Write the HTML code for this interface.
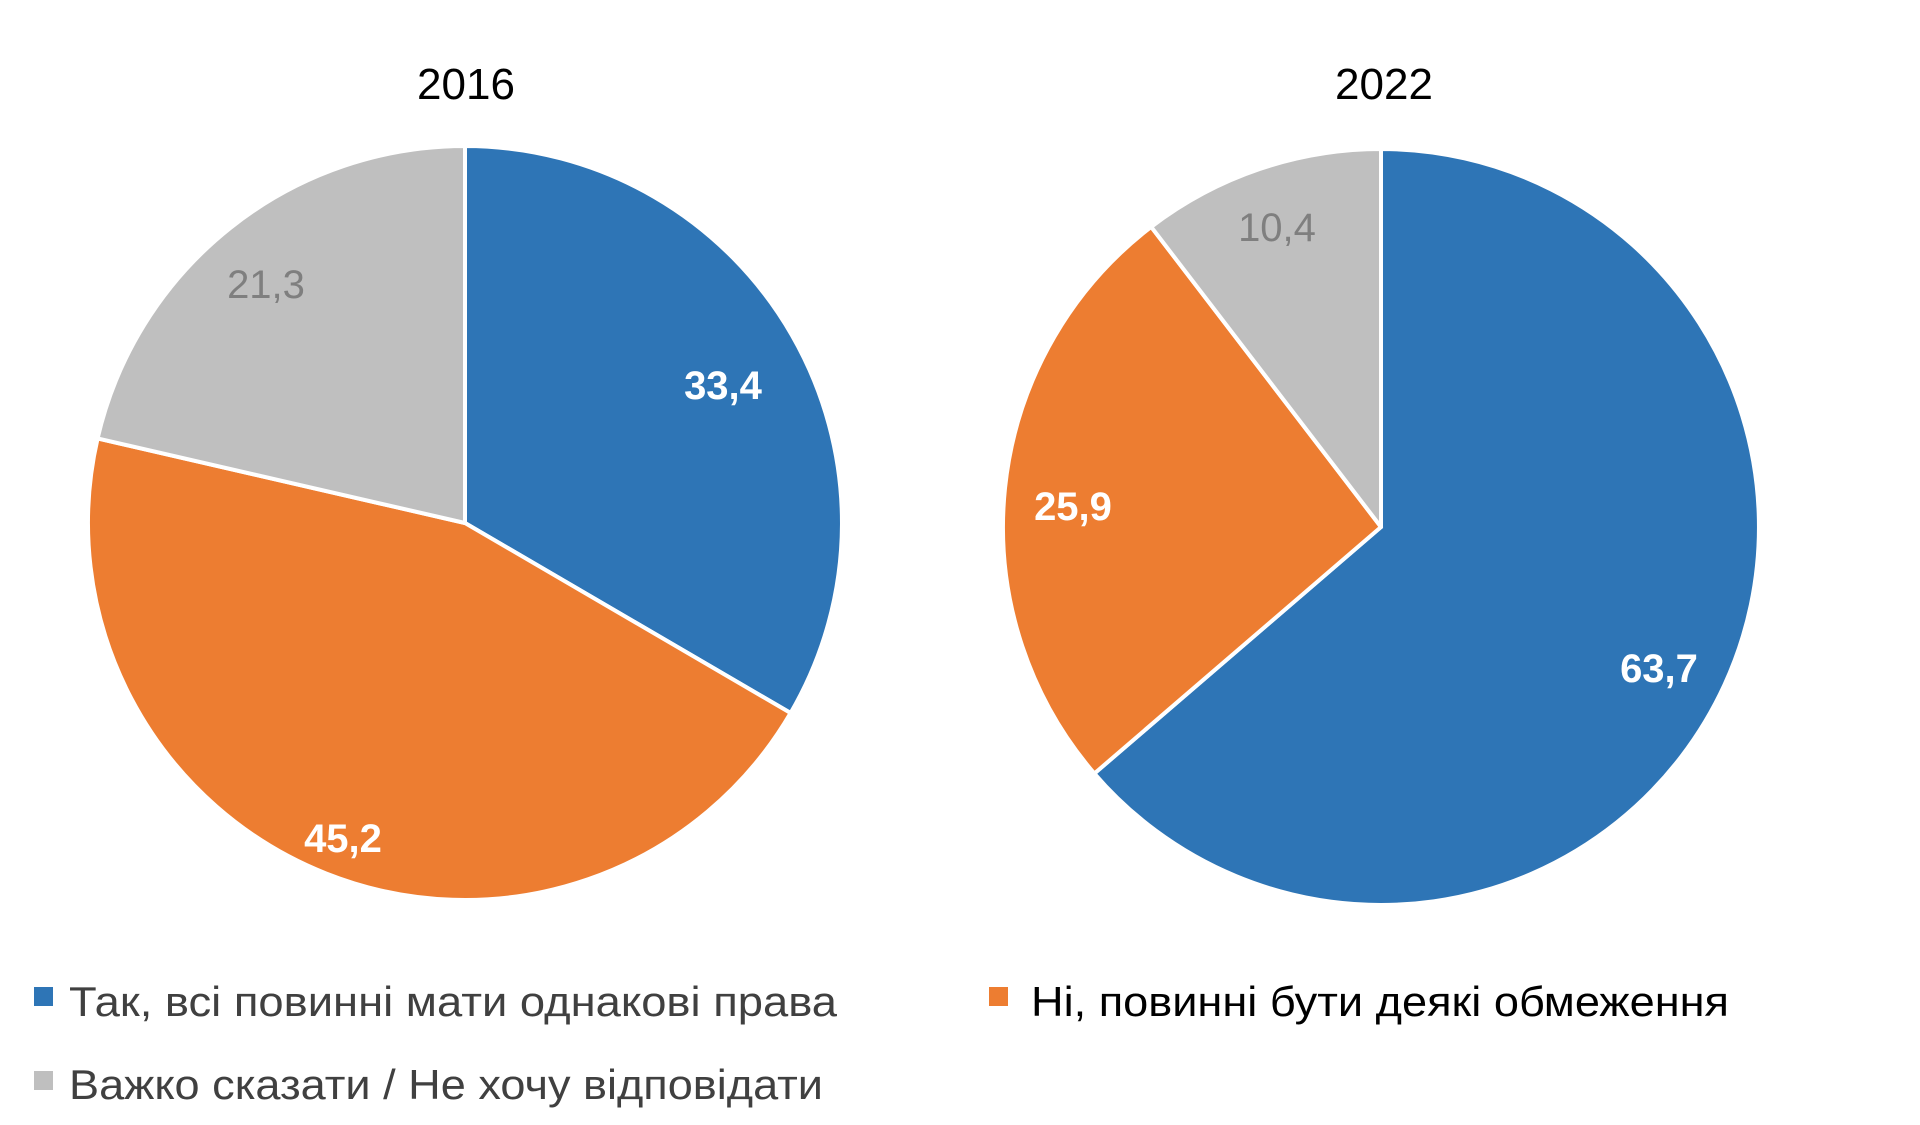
<!DOCTYPE html>
<html><head><meta charset="utf-8"><style>html,body{margin:0;padding:0;background:#fff}svg{display:block}</style></head>
<body>
<svg width="1920" height="1125" viewBox="0 0 1920 1125" xmlns="http://www.w3.org/2000/svg">
<g stroke="#fff" stroke-width="4" stroke-linejoin="round">
<g transform="translate(465,523)">
<path d="M0,0 L0,-377 A377,377 0 0 1 325.6,190.0 Z" fill="#2E75B6"/>
<path d="M0,0 L325.6,190.0 A377,377 0 0 1 -367.4,-84.6 Z" fill="#ED7D31"/>
<path d="M0,0 L-367.4,-84.6 A377,377 0 0 1 0,-377 Z" fill="#BFBFBF"/>
</g>
<g transform="translate(1381,527)">
<path d="M0,0 L0,-378 A378,378 0 1 1 -286.6,246.5 Z" fill="#2E75B6"/>
<path d="M0,0 L-286.6,246.5 A378,378 0 0 1 -229.8,-300.1 Z" fill="#ED7D31"/>
<path d="M0,0 L-229.8,-300.1 A378,378 0 0 1 0,-378 Z" fill="#BFBFBF"/>
</g>
</g>
<g font-family="Liberation Sans, sans-serif" font-size="44" fill="#000" text-anchor="middle">
<text x="466" y="99">2016</text>
<text x="1384" y="99">2022</text>
</g>
<g font-family="Liberation Sans, sans-serif" font-size="40" font-weight="bold" text-anchor="middle">
<text x="723" y="399" fill="#fff">33,4</text>
<text x="343" y="852" fill="#fff">45,2</text>
<text x="266" y="298" fill="#7f7f7f" font-weight="normal">21,3</text>
<text x="1277" y="241" fill="#7f7f7f" font-weight="normal">10,4</text>
<text x="1073" y="520" fill="#fff">25,9</text>
<text x="1659" y="682" fill="#fff">63,7</text>
</g>
<rect x="34" y="987" width="19" height="19" fill="#2E75B6"/>
<rect x="989" y="987" width="19" height="19" fill="#ED7D31"/>
<rect x="34" y="1071" width="19" height="19" fill="#BFBFBF"/>
<g font-family="Liberation Sans, sans-serif" font-size="42">
<text x="69" y="1016" fill="#404040" textLength="768" lengthAdjust="spacingAndGlyphs">Так, всі повинні мати однакові права</text>
<text x="1031" y="1016" fill="#000" textLength="698" lengthAdjust="spacingAndGlyphs">Ні, повинні бути деякі обмеження</text>
<text x="69" y="1099" fill="#404040" textLength="754" lengthAdjust="spacingAndGlyphs">Важко сказати / Не хочу відповідати</text>
</g>
</svg>
</body></html>
